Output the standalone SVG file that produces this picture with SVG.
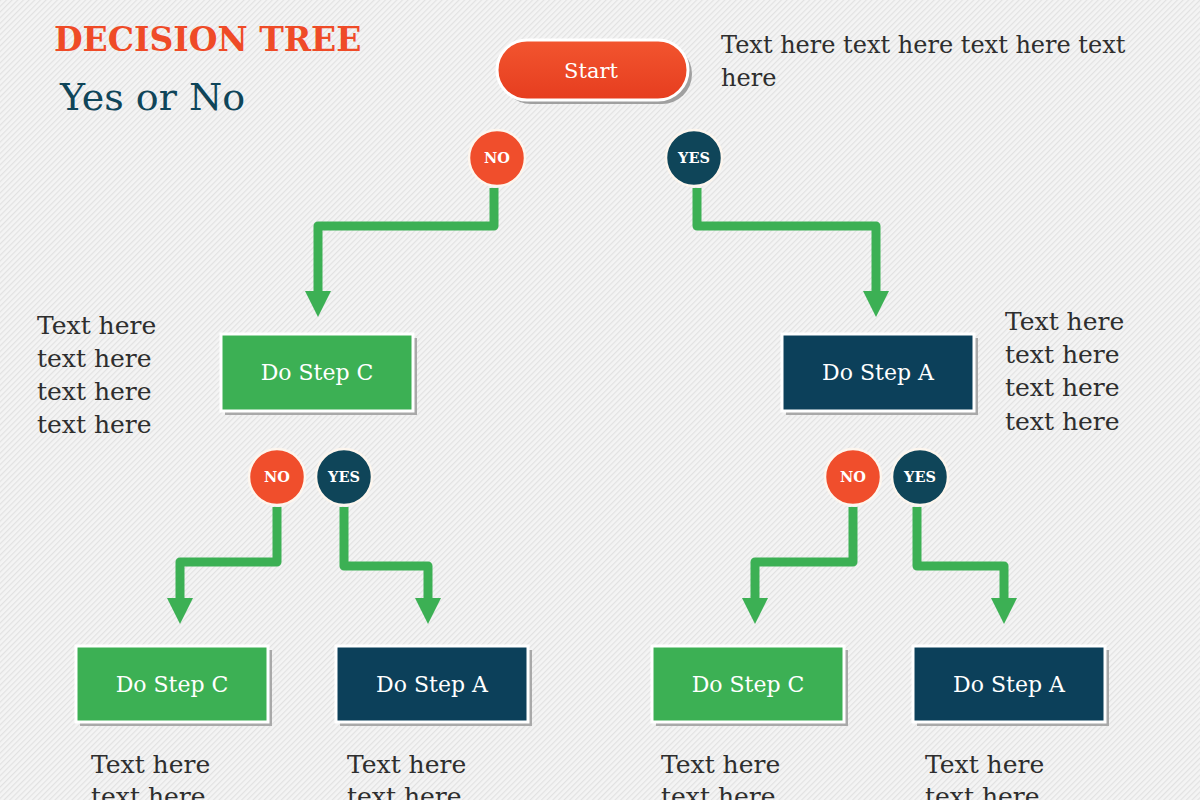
<svg xmlns="http://www.w3.org/2000/svg" width="1200" height="800" viewBox="0 0 1200 800">
<defs>
<pattern id="stripes" width="4" height="4" patternUnits="userSpaceOnUse" patternTransform="rotate(45)">
<rect width="4" height="4" fill="#f4f4f4"/>
<rect x="0" y="0" width="1.2" height="4" fill="#e2e2e2"/>
</pattern>
<linearGradient id="startGrad" x1="0" y1="0" x2="0" y2="1">
<stop offset="0" stop-color="#f2552f"/>
<stop offset="1" stop-color="#e63d1f"/>
</linearGradient>
<marker id="arrow" viewBox="0 0 26 26" refX="1" refY="13" markerWidth="26" markerHeight="26" markerUnits="userSpaceOnUse" orient="auto">
<path d="M0,0 L26,13 L0,26 z" fill="#3cb054"/>
</marker>
</defs>
<style>
.title{font-family:"DejaVu Serif","Liberation Serif",serif;font-weight:bold;font-size:33px;fill:#ef4b27}
.sub{font-family:"DejaVu Serif","Liberation Serif",serif;font-size:38px;fill:#0f4559}
.body{font-family:"DejaVu Serif","Liberation Serif",serif;font-size:25px;fill:#2e2e2e}
.top{font-family:"DejaVu Serif","Liberation Serif",serif;font-size:24px;fill:#2e2e2e}
.boxtxt{font-family:"DejaVu Serif","Liberation Serif",serif;font-size:22px;fill:#ffffff;text-anchor:middle}
.circtxt{font-family:"DejaVu Serif","Liberation Serif",serif;font-weight:bold;font-size:14.5px;fill:#ffffff;text-anchor:middle}
.shadow{fill:#a9a9a9}
.green{fill:#3cb054;stroke:#ffffff;stroke-width:3}
.navy{fill:#0c405a;stroke:#ffffff;stroke-width:3}
.no{fill:#f04e2c;stroke:#fdf6ee;stroke-width:2.5}
.yes{fill:#0f4559;stroke:#fdf6ee;stroke-width:2.5}
.conn{fill:none;stroke:#3cb054;stroke-width:9;stroke-linejoin:round;marker-end:url(#arrow)}
</style>
<rect width="1200" height="800" fill="url(#stripes)"/>

<g id="title">
<text class="title" x="54" y="51">DECISION TREE</text>
<text class="sub" x="60" y="110">Yes or No</text>
</g>

<g id="start">
<rect x="501" y="44" width="191" height="60" rx="30" fill="#a0a0a0"/>
<rect x="497" y="40" width="191" height="60" rx="30" fill="url(#startGrad)" stroke="#ffffff" stroke-width="3"/>
<text x="591" y="78" style="font-family:'DejaVu Serif','Liberation Serif',serif;font-size:21px;fill:#ffffff;text-anchor:middle">Start</text>
</g>

<g id="note-top">
<text class="top" x="721" y="53">Text here text here text here text</text>
<text class="top" x="721" y="86">here</text>
</g>

<g id="connectors">
<polyline class="conn" points="494,188 494,226 318,226 318,292"/>
<polyline class="conn" points="697,188 697,226 876,226 876,292"/>
<polyline class="conn" points="277,507 277,562 180,562 180,599"/>
<polyline class="conn" points="344,507 344,566 428,566 428,599"/>
<polyline class="conn" points="853,507 853,562 755,562 755,599"/>
<polyline class="conn" points="917,507 917,566 1004,566 1004,599"/>
</g>

<g id="no-1">
<circle class="no" cx="497" cy="158" r="28"/>
<text class="circtxt" x="497" y="163">NO</text>
</g>
<g id="yes-1">
<circle class="yes" cx="694" cy="158" r="28"/>
<text class="circtxt" x="694" y="163">YES</text>
</g>

<g id="step-c-1">
<rect class="shadow" x="225" y="338" width="192" height="77"/>
<rect class="green" x="221" y="334" width="192" height="77"/>
<text class="boxtxt" x="317" y="380">Do Step C</text>
</g>
<g id="step-a-1">
<rect class="shadow" x="786" y="338" width="192" height="77"/>
<rect class="navy" x="782" y="334" width="192" height="77"/>
<text class="boxtxt" x="878" y="380">Do Step A</text>
</g>

<g id="note-left">
<text class="body" x="37" y="334">Text here</text>
<text class="body" x="37" y="367">text here</text>
<text class="body" x="37" y="400">text here</text>
<text class="body" x="37" y="433">text here</text>
</g>
<g id="note-right">
<text class="body" x="1005" y="330">Text here</text>
<text class="body" x="1005" y="363">text here</text>
<text class="body" x="1005" y="396">text here</text>
<text class="body" x="1005" y="430">text here</text>
</g>

<g id="no-2l">
<circle class="no" cx="277" cy="477" r="28"/>
<text class="circtxt" x="277" y="482">NO</text>
</g>
<g id="yes-2l">
<circle class="yes" cx="344" cy="477" r="28"/>
<text class="circtxt" x="344" y="482">YES</text>
</g>
<g id="no-2r">
<circle class="no" cx="853" cy="477" r="28"/>
<text class="circtxt" x="853" y="482">NO</text>
</g>
<g id="yes-2r">
<circle class="yes" cx="920" cy="477" r="28"/>
<text class="circtxt" x="920" y="482">YES</text>
</g>

<g id="step-c-2l">
<rect class="shadow" x="80" y="650" width="192" height="76"/>
<rect class="green" x="76" y="646" width="192" height="76"/>
<text class="boxtxt" x="172" y="692">Do Step C</text>
</g>
<g id="step-a-2l">
<rect class="shadow" x="340" y="650" width="192" height="76"/>
<rect class="navy" x="336" y="646" width="192" height="76"/>
<text class="boxtxt" x="432" y="692">Do Step A</text>
</g>
<g id="step-c-2r">
<rect class="shadow" x="656" y="650" width="192" height="76"/>
<rect class="green" x="652" y="646" width="192" height="76"/>
<text class="boxtxt" x="748" y="692">Do Step C</text>
</g>
<g id="step-a-2r">
<rect class="shadow" x="917" y="650" width="192" height="76"/>
<rect class="navy" x="913" y="646" width="192" height="76"/>
<text class="boxtxt" x="1009" y="692">Do Step A</text>
</g>

<g id="notes-bottom">
<text class="body" x="91" y="773">Text here</text>
<text class="body" x="91" y="805">text here</text>
<text class="body" x="347" y="773">Text here</text>
<text class="body" x="347" y="805">text here</text>
<text class="body" x="661" y="773">Text here</text>
<text class="body" x="661" y="805">text here</text>
<text class="body" x="925" y="773">Text here</text>
<text class="body" x="925" y="805">text here</text>
</g>
</svg>
